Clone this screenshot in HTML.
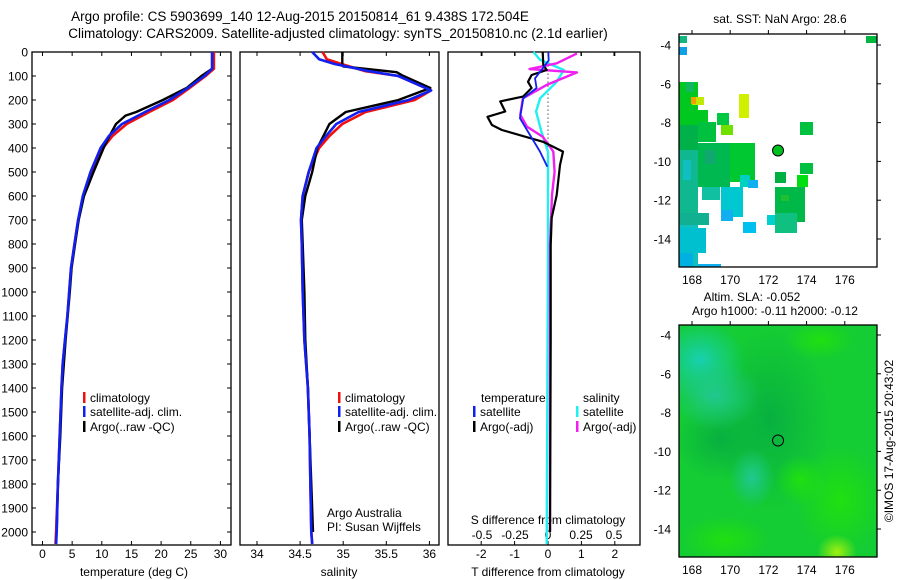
<!DOCTYPE html>
<html><head><meta charset="utf-8"><style>
html,body{margin:0;padding:0;background:#fff;}
svg{display:block;font-family:"Liberation Sans",sans-serif;}
text{fill:#000;}
</style></head><body>
<svg id="root" width="900" height="580" viewBox="0 0 900 580" xmlns="http://www.w3.org/2000/svg">
<defs>
<radialGradient id="gCyan" cx="0.5" cy="0.5" r="0.5"><stop offset="0" stop-color="#18d0b0"/><stop offset="1" stop-color="#18d0b0" stop-opacity="0"/></radialGradient>
<radialGradient id="gTeal" cx="0.5" cy="0.5" r="0.5"><stop offset="0" stop-color="#20c890"/><stop offset="1" stop-color="#20c890" stop-opacity="0"/></radialGradient>
<radialGradient id="gDark" cx="0.5" cy="0.5" r="0.5"><stop offset="0" stop-color="#08b040"/><stop offset="1" stop-color="#08b040" stop-opacity="0"/></radialGradient>
<radialGradient id="gYel" cx="0.5" cy="0.5" r="0.5"><stop offset="0" stop-color="#a0f010"/><stop offset="1" stop-color="#a0f010" stop-opacity="0"/></radialGradient>
<radialGradient id="gLight" cx="0.5" cy="0.5" r="0.5"><stop offset="0" stop-color="#20e010"/><stop offset="1" stop-color="#20e010" stop-opacity="0"/></radialGradient>
<clipPath id="clipTop"><rect x="679" y="34" width="198" height="233"/></clipPath>
<clipPath id="clipBot"><rect x="679" y="325" width="198" height="232"/></clipPath>
</defs>
<text x="300" y="21" text-anchor="middle" font-size="13.5">Argo profile: CS 5903699_140 12-Aug-2015 20150814_61 9.438S 172.504E</text>
<text x="338" y="38" text-anchor="middle" font-size="13.5">Climatology: CARS2009. Satellite-adjusted climatology: synTS_20150810.nc (2.1d earlier)</text>
<g id="g1"></g>
<g id="g2"></g>
<g id="g3"></g>
<g id="g4"></g>
<g id="g5"></g>
<text transform="translate(893,441) rotate(-90)" text-anchor="middle" font-size="12">©IMOS 17-Aug-2015 20:43:02</text>
</svg>
<script>
// ---- data ----
const depthTicks = [0,100,200,300,400,500,600,700,800,900,1000,1100,1200,1300,1400,1500,1600,1700,1800,1900,2000];
const tempTicks = [0,5,10,15,20,25,30];
const salTicks = [34,34.5,35,35.5,36];
const tdiffTicks = [-2,-1,0,1,2];
const sdiffTicks = [-0.5,-0.25,0,0.25,0.5];
const sdiffLabels = ["-0.5","-0.25","0","0.25","0.5"];

const climDepth = [0,70,100,150,200,250,300,350,400,500,600,700,800,900,1000,1100,1200,1300,1400,1600,1800,2000,2050];
const climTemp  = [28.9,28.9,27.5,24.8,22.0,18.0,14.2,11.8,10.2,8.3,6.9,6.0,5.4,4.8,4.5,4.2,3.8,3.4,3.2,2.9,2.6,2.3,2.2];
const satTemp   = [28.6,28.6,27.3,24.5,21.4,17.3,13.4,11.2,9.8,8.1,6.8,6.0,5.4,4.8,4.5,4.2,3.8,3.4,3.2,2.9,2.6,2.4,2.3];
const argoTDepth = [0,70,100,130,150,200,250,265,300,350,400,500,600,700,800,900,1000,1200,1400,1600,1800,2000];
const argoTemp   = [28.6,28.6,26.8,25.3,24.3,20.3,15.8,14.0,12.4,11.3,10.3,8.6,7.0,6.1,5.5,4.9,4.6,3.9,3.3,3.0,2.6,2.4];

const climSal = [34.76,34.81,34.98,35.26,35.64,36.02,35.83,35.26,34.99,34.84,34.72,34.60,34.53];
const climSalDepth = [0,30,50,80,100,160,200,250,300,350,400,500,600];
const climSalDeep = [34.51,34.52,34.53,34.55,34.59,34.61,34.62,34.63,34.64];
const deepDepth = [700,800,1000,1200,1400,1600,1800,2000,2050];
const satSal = [34.64,34.72,34.90,35.30,35.64,36.02,35.76,35.18,34.92,34.80,34.69,34.60,34.53];
const argoSalDepth = [0,55,60,84,100,150,200,250,300,350,400,500,600,700,800,1000,1200,1400,1600,1800,2000];
const argoSal = [34.99,34.99,35.0,35.62,35.70,36.01,35.64,35.03,34.84,34.77,34.70,34.64,34.56,34.52,34.53,34.55,34.56,34.59,34.61,34.63,34.65];

const tArgoDiffDepth = [0,54,75,96,124,150,186,206,248,270,304,325,374,415,471,596,691,804,1200,2000];
const tArgoDiff = [-0.16,-0.14,-0.04,-0.49,-0.6,-0.49,-0.75,-1.43,-1.28,-1.81,-1.68,-1.38,-0.15,0.45,0.36,0.26,0.11,0.08,0.08,0.06];
const tSatDiffDepth = [0,35,110,150,193,276,346,415,478];
const tSatDiff = [0.01,0.02,-0.39,-0.34,-0.74,-0.84,-0.54,-0.24,-0.02];
const sArgoDiffDepth = [6,47,71,85,137,193,262,311,353,415,499,596,804,2000];
const sArgoDiff = [0.22,0.066,-0.14,0.22,-0.01,-0.19,-0.21,-0.16,-0.04,0.04,0.05,0.03,0.015,0.015];
const sSatDiffDepth = [0,33,75,124,193,248,332,415,804,2050];
const sSatDiff = [-0.11,-0.06,0.12,0.066,-0.06,-0.09,-0.05,0,0,-0.01];

const lonTicks = [168,170,172,174,176];
const latTicks = [-4,-6,-8,-10,-12,-14];
const argoLon = 172.504, argoLat = -9.438;

// ---- helpers ----
const NS="http://www.w3.org/2000/svg";
function mk(parent,tag,attrs,txt){const e=document.createElementNS(NS,tag);for(const k in attrs)e.setAttribute(k,attrs[k]);if(txt!==undefined)e.textContent=txt;parent.appendChild(e);return e;}
const yD = d => 52 + d*0.24;
const BOT = 545, TOP = 52;
function pathFrom(xs,ds,xf){return xs.map((v,i)=>(i?'L':'M')+xf(v).toFixed(1)+','+yD(ds[i]).toFixed(1)).join('');}

function panelFrame(g,x0,x1,name){
  const r=mk(g,'rect',{x:x0,y:TOP,width:x1-x0,height:BOT-TOP,fill:'none',stroke:'#000','stroke-width':1.3});
  
  
}
function xTicks(g,vals,labels,xf,yLab,tickName){
  vals.forEach((v,i)=>{
    const x=xf(v);
    const t1=mk(g,'line',{x1:x,x2:x,y1:BOT,y2:BOT-4,stroke:'#000'});
    
    
    const t2=mk(g,'line',{x1:x,x2:x,y1:TOP,y2:TOP+4,stroke:'#000'});
    
    
    const l=mk(g,'text',{x:x,y:yLab,'text-anchor':'middle','font-size':12},labels[i]);
    
    
  });
}
function line(g,d,color,w,name){
  const p=mk(g,'path',{d:d,fill:'none',stroke:color,'stroke-width':w,'stroke-linejoin':'round'});
  
  
}
function legend(g,x,y,color,label,name){
  const b=mk(g,'rect',{x:x,y:y-10,width:2.5,height:11,fill:color});
  
  
  const t=mk(g,'text',{x:x+7,y:y,'font-size':12},label);
  
  
}

// ---- Panel 1: temperature ----
const g1=document.getElementById('g1');
const xT = t => 42.5 + t*5.93;
panelFrame(g1,32,231,'temperature-axes-frame');
depthTicks.forEach(d=>{
  const y=yD(d);
  const a=mk(g1,'line',{x1:32,x2:36,y1:y,y2:y,stroke:'#000'});
  
  
  const b=mk(g1,'line',{x1:227,x2:231,y1:y,y2:y,stroke:'#000'});
  
  
  const l=mk(g1,'text',{x:28,y:y+4.5,'text-anchor':'end','font-size':12},String(d));
  
  
});
xTicks(g1,tempTicks,tempTicks.map(String),xT,558,'temperature');
const tt=mk(g1,'text',{x:134,y:576,'text-anchor':'middle','font-size':12},'temperature (deg C)');


line(g1,pathFrom(climTemp,climDepth,xT),'#f01010',2.6,'climatology-temperature-line');
line(g1,pathFrom(argoTemp,argoTDepth,xT),'#000',2.4,'argo-temperature-line');
line(g1,pathFrom(satTemp,climDepth,xT),'#1020f0',2.6,'satellite-adj-temperature-line');
legend(g1,83,402,'#f01010','climatology','legend-climatology');
legend(g1,83,416,'#1020f0','satellite-adj. clim.','legend-satellite');
legend(g1,83,431,'#000','Argo(..raw -QC)','legend-argo');

// ---- Panel 2: salinity ----
const g2=document.getElementById('g2');
const xS = s => 257 + (s-34)*86.2;
panelFrame(g2,240,439,'salinity-axes-frame');
xTicks(g2,salTicks,salTicks.map(String),xS,558,'salinity');
const st=mk(g2,'text',{x:339,y:576,'text-anchor':'middle','font-size':12},'salinity');


const csD=climSalDepth.concat(deepDepth);
line(g2,pathFrom(climSal.concat(climSalDeep),csD,xS),'#f01010',2.6,'climatology-salinity-line');
line(g2,pathFrom(argoSal,argoSalDepth,xS),'#000',2.4,'argo-salinity-line');
line(g2,pathFrom(satSal.concat(climSalDeep),csD,xS),'#1020f0',2.6,'satellite-adj-salinity-line');
legend(g2,338,402,'#f01010','climatology','legend2-climatology');
legend(g2,338,416,'#1020f0','satellite-adj. clim.','legend2-satellite');
legend(g2,338,431,'#000','Argo(..raw -QC)','legend2-argo');
const c1=mk(g2,'text',{x:327,y:517,'font-size':12},'Argo Australia');


const c2=mk(g2,'text',{x:327,y:531,'font-size':12},'PI: Susan Wijffels');



// ---- Panel 3: differences ----
const g3=document.getElementById('g3');
const xTd = t => 548 + t*33.4;
const xSd = s => 548 + s*132;
panelFrame(g3,448,640,'difference-axes-frame');
xTicks(g3,tdiffTicks,tdiffTicks.map(String),xTd,558,'tdiff');
sdiffTicks.forEach((v,i)=>{
  const l=mk(g3,'text',{x:xSd(v),y:539,'text-anchor':'middle','font-size':12},sdiffLabels[i]);
  
  
  const t=mk(g3,'line',{x1:xSd(v),x2:xSd(v),y1:TOP,y2:TOP+4,stroke:'#000'});
  
  
});
const s1=mk(g3,'text',{x:548,y:524,'text-anchor':'middle','font-size':12},'S difference from climatology');


const s2=mk(g3,'text',{x:548,y:576,'text-anchor':'middle','font-size':12},'T difference from climatology');


const zl=mk(g3,'line',{x1:548,x2:548,y1:yD(40),y2:yD(1500),stroke:'#000','stroke-dasharray':'1,3'});


line(g3,pathFrom(sSatDiff,sSatDiffDepth,xSd),'#20f0f0',2.4,'salinity-satellite-diff-line');
line(g3,pathFrom(sArgoDiff,sArgoDiffDepth,xSd),'#f020f0',2.4,'salinity-argo-diff-line');
line(g3,pathFrom(tArgoDiff,tArgoDiffDepth,xTd),'#000',2.2,'temperature-argo-diff-line');
line(g3,pathFrom(tSatDiff,tSatDiffDepth,xTd),'#1020f0',1.8,'temperature-satellite-diff-line');
const lt=mk(g3,'text',{x:481,y:402,'font-size':12},'temperature');


const ls=mk(g3,'text',{x:583,y:402,'font-size':12},'salinity');


legend(g3,473,416,'#1020f0','satellite','legend3-t-satellite');
legend(g3,473,431,'#000','Argo(-adj)','legend3-t-argo');
legend(g3,576,416,'#20f0f0','satellite','legend3-s-satellite');
legend(g3,576,431,'#f020f0','Argo(-adj)','legend3-s-argo');

// ---- Maps ----
const lonX = lon => 679 + (lon-167.32)*19.1;
function mapAxes(g,top,bot,latY,prefix){
  lonTicks.forEach(v=>{
    const x=lonX(v);
    const a=mk(g,'line',{x1:x,x2:x,y1:top,y2:top-4,stroke:'#000'});
    
    
    const l=mk(g,'text',{x:x,y:bot+17,'text-anchor':'middle','font-size':12},String(v));
    
    
  });
  latTicks.forEach(v=>{
    const y=latY(v);
    const a=mk(g,'line',{x1:877,x2:881,y1:y,y2:y,stroke:'#000'});
    
    
    const l=mk(g,'text',{x:671,y:y+4.5,'text-anchor':'end','font-size':12},String(v));
    
    
  });
  const f=mk(g,'rect',{x:679,y:top,width:198,height:bot-top,fill:'none',stroke:'#000','stroke-width':1.3});
  
  
}
// top SST map
const g4=document.getElementById('g4');
const latY1 = lat => 45 + (-4-lat)*19.4;
const t4=mk(g4,'text',{x:780,y:23,'text-anchor':'middle','font-size':12},'sat. SST: NaN Argo: 28.6');


const patchG=mk(g4,'g',{'clip-path':'url(#clipTop)'});


const patches=[
 [679,36,8,7,'#10b880'],[679,47,8,8,'#10a0e8'],[866,36,11,7,'#00b840'],
 [679,82,19,43,'#00c820'],[686,82,8,10,'#10b860'],[679,125,19,25,'#00b048'],[679,150,19,65,'#10b890'],
 [683,160,8,20,'#10c0c0'],[679,215,19,52,'#10c0c0'],[683,230,10,20,'#00b8e0'],
 [698,122,18,20,'#00c040'],[698,143,32,44,'#00b850'],[705,150,10,14,'#10a870'],[730,143,25,39,'#00c830'],
 [717,113,12,12,'#00c840'],[721,125,12,10,'#70e000'],[739,94,10,24,'#d0f000'],[692,97,12,8,'#c0e800'],[691,97,5,7,'#f0a000'],
 [698,110,10,12,'#00c820'],[702,187,18,13,'#10c0a0'],[721,187,22,30,'#00c8d0'],[721,210,12,11,'#10b0f0'],
 [743,222,13,11,'#00c0f0'],[679,213,30,12,'#10b090'],[679,228,27,25,'#00c0d0'],[679,253,14,14,'#00b0e0'],[698,264,23,3,'#10b0f0'],
 [800,122,13,13,'#00c040'],[800,163,13,11,'#00c040'],[775,172,11,11,'#00b040'],[797,175,11,12,'#00e010'],
 [775,187,30,35,'#00b848'],[781,195,8,6,'#20c030'],[775,213,22,20,'#10c080'],[767,215,8,10,'#00d0d0'],[740,175,10,12,'#00d0c0'],[748,180,10,8,'#10b0f0']
];
patches.forEach(p=>{
  const r=mk(patchG,'rect',{x:p[0],y:p[1],width:p[2],height:p[3],fill:p[4]});
  
  
});
const ac=mk(g4,'circle',{cx:lonX(argoLon),cy:latY1(argoLat),r:5.5,fill:'#00c020',stroke:'#000','stroke-width':1});


mapAxes(g4,34,267,latY1,'sst-map');

// bottom SLA map
const g5=document.getElementById('g5');
const latY2 = lat => 335 + (-4-lat)*19.4;
const t5a=mk(g5,'text',{x:752,y:301,'text-anchor':'middle','font-size':12},'Altim. SLA: -0.052');


const t5b=mk(g5,'text',{x:775,y:315,'text-anchor':'middle','font-size':12},'Argo h1000: -0.11 h2000: -0.12');


const bg=mk(g5,'g',{'clip-path':'url(#clipBot)'});


const blobs=[
 ['#14cc34',679,325,198,232,'rect'],
 ['url(#gDark)',770,420,120,180],['url(#gDark)',720,440,90,80],
 ['url(#gCyan)',700,360,90,80],['url(#gTeal)',715,395,90,70],['url(#gTeal)',752,478,45,60],
 ['url(#gLight)',840,500,90,110],['url(#gLight)',800,480,50,50],['url(#gYel)',837,552,40,35],['url(#gLight)',725,540,90,50],['url(#gLight)',820,340,70,40]
];
blobs.forEach(b=>{
  let e;
  if(b[5]==='rect'){e=mk(bg,'rect',{x:b[1],y:b[2],width:b[3],height:b[4],fill:b[0]});}
  else{e=mk(bg,'ellipse',{cx:b[1],cy:b[2],rx:b[3]/2,ry:b[4]/2,fill:b[0]});}
  
  
});
const ac2=mk(g5,'circle',{cx:lonX(argoLon),cy:latY2(argoLat),r:5.5,fill:'none',stroke:'#000','stroke-width':1});


mapAxes(g5,325,557,latY2,'sla-map');
</script>
</body></html>
